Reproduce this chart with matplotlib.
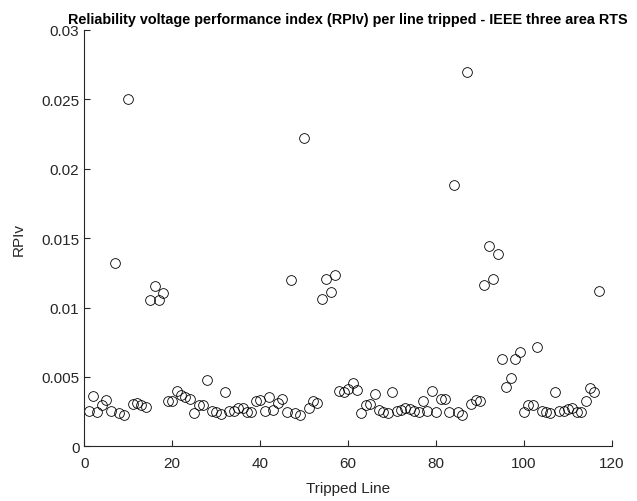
import matplotlib
matplotlib.use("Agg")
import matplotlib.pyplot as plt
import numpy as np

plt.rcParams['font.family'] = ['Liberation Sans', 'DejaVu Sans']

# tripped line number and RPIv value
lines = np.arange(1, 118)
rpiv = [
    0.00255, 0.00366, 0.00246, 0.00300, 0.00335, 0.00253, 0.01323, 0.00239, 0.00224, 0.02500,
    0.00304, 0.00313, 0.00296, 0.00286, 0.01053, 0.01154, 0.01058, 0.01108, 0.00327, 0.00327,
    0.00400, 0.00373, 0.00356, 0.00342, 0.00241, 0.00299, 0.00296, 0.00481, 0.00258, 0.00250,
    0.00236, 0.00395, 0.00255, 0.00258, 0.00277, 0.00277, 0.00248, 0.00250, 0.00330, 0.00337,
    0.00257, 0.00359, 0.00265, 0.00310, 0.00340, 0.00250, 0.01202, 0.00241, 0.00224, 0.02222,
    0.00277, 0.00327, 0.00313, 0.01063, 0.01205, 0.01111, 0.01234, 0.00397, 0.00392, 0.00412,
    0.00455, 0.00407, 0.00241, 0.00299, 0.00304, 0.00376, 0.00260, 0.00250, 0.00239, 0.00395,
    0.00255, 0.00260, 0.00275, 0.00272, 0.00255, 0.00250, 0.00327, 0.00255, 0.00397, 0.00250,
    0.00340, 0.00342, 0.00250, 0.01880, 0.00246, 0.00224, 0.02695, 0.00304, 0.00335, 0.00327,
    0.01162, 0.01443, 0.01207, 0.01385, 0.00633, 0.00428, 0.00491, 0.00633, 0.00681, 0.00250,
    0.00296, 0.00300, 0.00719, 0.00253, 0.00248, 0.00239, 0.00395, 0.00253, 0.00255, 0.00272,
    0.00275, 0.00248, 0.00248, 0.00330, 0.00419, 0.00390, 0.01120,
]

xticks = [0, 20, 40, 60, 80, 100, 120]
yticks = [0, 0.005, 0.01, 0.015, 0.02, 0.025, 0.03]
yticklabels = ['0', '0.005', '0.01', '0.015', '0.02', '0.025', '0.03']

fig = plt.figure(figsize=(6.37, 5.02), dpi=100)
ax = fig.add_axes([0.1323, 0.1088, 0.8285, 0.8295])

ax.plot(lines, rpiv, 'o', markersize=7, markerfacecolor='none',
        markeredgecolor='black', markeredgewidth=0.6)

ax.set_xlim(0, 120)
ax.set_ylim(0, 0.03)
ax.set_xticks(xticks)
ax.set_yticks(yticks)
ax.set_yticklabels(yticklabels)

for s in ['top', 'right']:
    ax.spines[s].set_visible(False)
for s in ['left', 'bottom']:
    ax.spines[s].set_color('#262626')
    ax.spines[s].set_linewidth(0.8)
ax.tick_params(direction='in', length=4, width=0.8, color='#262626',
               labelsize=11, labelcolor='#262626')
ax.tick_params(axis='x', pad=7)

ax.set_xlabel('Tripped Line', fontsize=11, color='#262626', labelpad=8)
ax.set_ylabel('RPIv', fontsize=11, color='#262626', labelpad=11)
ax.set_title('Reliability voltage performance index (RPIv) per line tripped - IEEE three area RTS',
             fontsize=10.4, fontweight='bold', pad=5)

fig.savefig('out.png', dpi=100)
